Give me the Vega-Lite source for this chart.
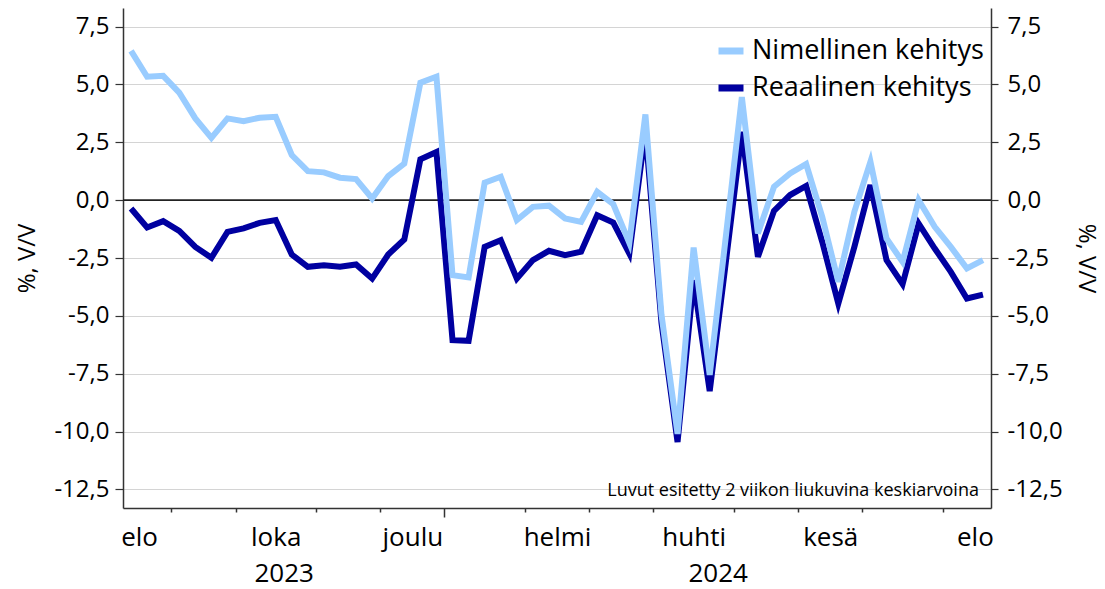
{
  "$schema": "https://vega.github.io/schema/vega-lite/v6.json",
  "width": 868,
  "height": 500,
  "autosize": "none",
  "padding": {"left": 123, "top": 8, "right": 114, "bottom": 81},
  "background": "white",
  "config": {
    "view": {"stroke": null},
    "font": "Open Sans",
    "axis": {"labelFont": "Open Sans", "titleFont": "Open Sans", "labelColor": "#000", "titleColor": "#000"}
  },
  "data": {
    "values": [
      {"week": "2023-08-14", "Nimellinen kehitys": 6.45, "Reaalinen kehitys": -0.36},
      {"week": "2023-08-21", "Nimellinen kehitys": 5.33, "Reaalinen kehitys": -1.18},
      {"week": "2023-08-28", "Nimellinen kehitys": 5.37, "Reaalinen kehitys": -0.91},
      {"week": "2023-09-04", "Nimellinen kehitys": 4.64, "Reaalinen kehitys": -1.33},
      {"week": "2023-09-11", "Nimellinen kehitys": 3.53, "Reaalinen kehitys": -2.02},
      {"week": "2023-09-18", "Nimellinen kehitys": 2.69, "Reaalinen kehitys": -2.49},
      {"week": "2023-09-25", "Nimellinen kehitys": 3.53, "Reaalinen kehitys": -1.37},
      {"week": "2023-10-02", "Nimellinen kehitys": 3.41, "Reaalinen kehitys": -1.22},
      {"week": "2023-10-09", "Nimellinen kehitys": 3.56, "Reaalinen kehitys": -0.98},
      {"week": "2023-10-16", "Nimellinen kehitys": 3.60, "Reaalinen kehitys": -0.86},
      {"week": "2023-10-23", "Nimellinen kehitys": 1.95, "Reaalinen kehitys": -2.35},
      {"week": "2023-10-30", "Nimellinen kehitys": 1.25, "Reaalinen kehitys": -2.88},
      {"week": "2023-11-06", "Nimellinen kehitys": 1.20, "Reaalinen kehitys": -2.81},
      {"week": "2023-11-13", "Nimellinen kehitys": 0.97, "Reaalinen kehitys": -2.88},
      {"week": "2023-11-20", "Nimellinen kehitys": 0.91, "Reaalinen kehitys": -2.78},
      {"week": "2023-11-27", "Nimellinen kehitys": 0.07, "Reaalinen kehitys": -3.39},
      {"week": "2023-12-04", "Nimellinen kehitys": 1.04, "Reaalinen kehitys": -2.35},
      {"week": "2023-12-11", "Nimellinen kehitys": 1.58, "Reaalinen kehitys": -1.70},
      {"week": "2023-12-18", "Nimellinen kehitys": 5.07, "Reaalinen kehitys": 1.76},
      {"week": "2023-12-25", "Nimellinen kehitys": 5.33, "Reaalinen kehitys": 2.08},
      {"week": "2024-01-01", "Nimellinen kehitys": -3.24, "Reaalinen kehitys": -6.05},
      {"week": "2024-01-08", "Nimellinen kehitys": -3.34, "Reaalinen kehitys": -6.08},
      {"week": "2024-01-15", "Nimellinen kehitys": 0.75, "Reaalinen kehitys": -2.02},
      {"week": "2024-01-22", "Nimellinen kehitys": 1.01, "Reaalinen kehitys": -1.73},
      {"week": "2024-01-29", "Nimellinen kehitys": -0.86, "Reaalinen kehitys": -3.39},
      {"week": "2024-02-05", "Nimellinen kehitys": -0.29, "Reaalinen kehitys": -2.59},
      {"week": "2024-02-12", "Nimellinen kehitys": -0.24, "Reaalinen kehitys": -2.19},
      {"week": "2024-02-19", "Nimellinen kehitys": -0.79, "Reaalinen kehitys": -2.38},
      {"week": "2024-02-26", "Nimellinen kehitys": -0.94, "Reaalinen kehitys": -2.23},
      {"week": "2024-03-04", "Nimellinen kehitys": 0.36, "Reaalinen kehitys": -0.65},
      {"week": "2024-03-11", "Nimellinen kehitys": -0.17, "Reaalinen kehitys": -0.97},
      {"week": "2024-03-18", "Nimellinen kehitys": -1.85, "Reaalinen kehitys": -2.31},
      {"week": "2024-03-25", "Nimellinen kehitys": 3.70, "Reaalinen kehitys": 3.0},
      {"week": "2024-04-01", "Nimellinen kehitys": -4.95, "Reaalinen kehitys": -5.3},
      {"week": "2024-04-08", "Nimellinen kehitys": -10.1, "Reaalinen kehitys": -10.45},
      {"week": "2024-04-15", "Nimellinen kehitys": -2.05, "Reaalinen kehitys": -3.46},
      {"week": "2024-04-22", "Nimellinen kehitys": -7.55, "Reaalinen kehitys": -8.25},
      {"week": "2024-04-29", "Nimellinen kehitys": -1.6, "Reaalinen kehitys": -2.7},
      {"week": "2024-05-06", "Nimellinen kehitys": 4.45, "Reaalinen kehitys": 2.95},
      {"week": "2024-05-13", "Nimellinen kehitys": -1.44, "Reaalinen kehitys": -2.45},
      {"week": "2024-05-20", "Nimellinen kehitys": 0.58, "Reaalinen kehitys": -0.46},
      {"week": "2024-05-27", "Nimellinen kehitys": 1.15, "Reaalinen kehitys": 0.22},
      {"week": "2024-06-03", "Nimellinen kehitys": 1.56, "Reaalinen kehitys": 0.61},
      {"week": "2024-06-10", "Nimellinen kehitys": -0.72, "Reaalinen kehitys": -1.80},
      {"week": "2024-06-17", "Nimellinen kehitys": -3.53, "Reaalinen kehitys": -4.47},
      {"week": "2024-06-24", "Nimellinen kehitys": -0.50, "Reaalinen kehitys": -2.02},
      {"week": "2024-07-01", "Nimellinen kehitys": 1.66, "Reaalinen kehitys": 0.65},
      {"week": "2024-07-08", "Nimellinen kehitys": -1.66, "Reaalinen kehitys": -2.59},
      {"week": "2024-07-15", "Nimellinen kehitys": -2.67, "Reaalinen kehitys": -3.63},
      {"week": "2024-07-22", "Nimellinen kehitys": 0.0, "Reaalinen kehitys": -1.01},
      {"week": "2024-07-29", "Nimellinen kehitys": -1.15, "Reaalinen kehitys": -2.09},
      {"week": "2024-08-05", "Nimellinen kehitys": -2.02, "Reaalinen kehitys": -3.10},
      {"week": "2024-08-12", "Nimellinen kehitys": -2.95, "Reaalinen kehitys": -4.25},
      {"week": "2024-08-19", "Nimellinen kehitys": -2.59, "Reaalinen kehitys": -4.08}
    ]
  },
  "layer": [
    {
      "data": {"values": [{}]},
      "mark": {"type": "rule", "color": "#222222", "strokeWidth": 1.6},
      "encoding": {
        "y": {"datum": 0, "type": "quantitative", "axis": null}
      }
    },
    {
      "transform": [
        {"fold": ["Nimellinen kehitys", "Reaalinen kehitys"], "as": ["series", "value"]},
        {"filter": "datum.series === 'Reaalinen kehitys'"}
      ],
      "mark": {"type": "line", "strokeWidth": 6, "strokeJoin": "miter"},
      "encoding": {
        "x": {
          "field": "week", "type": "temporal",
          "scale": {"type": "utc", "domain": [{"year": 2023, "month": 8, "date": 10, "hours": 12, "utc": true}, {"year": 2024, "month": 8, "date": 22, "hours": 12, "utc": true}]},
          "axis": {
            "orient": "bottom", "title": null, "labels": false, "grid": false,
            "values": [
              {"year": 2023, "month": 8, "date": 31, "hours": 12, "utc": true},
              {"year": 2023, "month": 9, "date": 28, "hours": 12, "utc": true},
              {"year": 2023, "month": 11, "date": 2, "hours": 12, "utc": true},
              {"year": 2023, "month": 11, "date": 30, "hours": 12, "utc": true},
              {"year": 2023, "month": 12, "date": 28, "hours": 12, "utc": true},
              {"year": 2024, "month": 2, "date": 1, "hours": 12, "utc": true},
              {"year": 2024, "month": 2, "date": 29, "hours": 12, "utc": true},
              {"year": 2024, "month": 3, "date": 28, "hours": 12, "utc": true},
              {"year": 2024, "month": 5, "date": 2, "hours": 12, "utc": true},
              {"year": 2024, "month": 5, "date": 30, "hours": 12, "utc": true},
              {"year": 2024, "month": 6, "date": 27, "hours": 12, "utc": true},
              {"year": 2024, "month": 8, "date": 1, "hours": 12, "utc": true}
            ],
            "domainColor": "#333333", "domainWidth": 1.5,
            "tickColor": "#333333", "tickWidth": 1.5,
            "tickSize": {"condition": {"test": "utcmonth(datum.value) == 11", "value": 9}, "value": 4}
          }
        },
        "y": {
          "field": "value", "type": "quantitative",
          "scale": {"domain": [-13.3, 8.3], "nice": false, "zero": false},
          "axis": {
            "orient": "left", "title": "%, V/V", "titleFontSize": 24, "titleFontWeight": "normal", "titlePadding": 14,
            "values": [-12.5, -10, -7.5, -5, -2.5, 0, 2.5, 5, 7.5],
            "labelExpr": "(datum.value < 0 ? '-' : '') + replace(format(abs(datum.value), '.1f'), '.', ',')",
            "labelFontSize": 24, "labelPadding": 6,
            "grid": true, "gridColor": "#d4d4d4", "gridWidth": 1,
            "domainColor": "#333333", "domainWidth": 1.5,
            "tickColor": "#333333", "tickSize": 8, "tickWidth": 1.2
          }
        },
        "color": {
          "field": "series", "type": "nominal",
          "scale": {"domain": ["Nimellinen kehitys", "Reaalinen kehitys"], "range": ["#99ccff", "#0000a0"]},
          "legend": {
            "orient": "none", "legendX": 592, "legendY": 27, "title": null, "padding": 0,
            "symbolType": "stroke", "symbolStrokeWidth": 7, "symbolSize": 625,
            "labelFontSize": 27, "labelFont": "Open Sans", "labelColor": "#000", "labelLimit": 400,
            "labelOffset": 5, "rowPadding": 7
          }
        }
      }
    },
    {
      "transform": [
        {"fold": ["Nimellinen kehitys", "Reaalinen kehitys"], "as": ["series", "value"]},
        {"filter": "datum.series === 'Nimellinen kehitys'"}
      ],
      "mark": {"type": "line", "strokeWidth": 6, "strokeJoin": "miter"},
      "encoding": {
        "x": {
          "field": "week", "type": "temporal",
          "axis": {
            "orient": "bottom", "title": null, "grid": false, "domain": false, "ticks": false, "tickSize": 0,
            "values": [
              {"year": 2023, "month": 8, "date": 17, "hours": 12, "utc": true},
              {"year": 2023, "month": 10, "date": 16, "utc": true},
              {"year": 2023, "month": 12, "date": 14, "hours": 12, "utc": true},
              {"year": 2024, "month": 2, "date": 15, "hours": 12, "utc": true},
              {"year": 2024, "month": 4, "date": 15, "utc": true},
              {"year": 2024, "month": 6, "date": 13, "hours": 12, "utc": true},
              {"year": 2024, "month": 8, "date": 15, "hours": 12, "utc": true}
            ],
            "labelExpr": "['tammi','helmi','maalis','huhti','touko','kesä','heinä','elo','syys','loka','marras','joulu'][utcmonth(datum.value)]",
            "labelBaseline": "alphabetic", "labelPadding": 37, "labelFontSize": 26,
            "labelFlush": false, "labelOverlap": false, "labelBound": false
          }
        },
        "y": {
          "field": "value", "type": "quantitative",
          "axis": {
            "orient": "right", "title": "%, V/V", "titleFontSize": 24, "titleFontWeight": "normal", "titlePadding": 11,
            "values": [-12.5, -10, -7.5, -5, -2.5, 0, 2.5, 5, 7.5],
            "labelExpr": "(datum.value < 0 ? '-' : '') + replace(format(abs(datum.value), '.1f'), '.', ',')",
            "labelFontSize": 24, "labelPadding": 9,
            "grid": false,
            "domainColor": "#333333", "domainWidth": 1.5,
            "tickColor": "#333333", "tickSize": 7, "tickWidth": 1.2
          }
        },
        "color": {
          "field": "series", "type": "nominal",
          "legend": {
            "orient": "none", "legendX": 592, "legendY": 27, "title": null, "padding": 0,
            "symbolType": "stroke", "symbolStrokeWidth": 7, "symbolSize": 625,
            "labelFontSize": 27, "labelFont": "Open Sans", "labelColor": "#000", "labelLimit": 400,
            "labelOffset": 5, "rowPadding": 7
          }
        }
      }
    },
    {
      "data": {"values": [{"note": "Luvut esitetty 2 viikon liukuvina keskiarvoina"}]},
      "mark": {"type": "text", "align": "right", "baseline": "alphabetic", "dx": -4, "dy": 7, "fontSize": 18, "font": "Open Sans", "color": "#000"},
      "encoding": {
        "text": {"field": "note"},
        "x": {
          "datum": {"year": 2024, "month": 8, "date": 19, "utc": true}, "type": "temporal",
          "axis": {
            "orient": "bottom", "title": null, "grid": false, "domain": false, "ticks": false, "tickSize": 0,
            "values": [
              {"year": 2023, "month": 10, "date": 19, "hours": 12, "utc": true},
              {"year": 2024, "month": 4, "date": 25, "hours": 12, "utc": true}
            ],
            "labelExpr": "'' + utcyear(datum.value)",
            "labelBaseline": "alphabetic", "labelPadding": 73, "labelFontSize": 26,
            "labelFlush": false, "labelOverlap": false, "labelBound": false
          }
        },
        "y": {"datum": -12.5, "type": "quantitative", "axis": null}
      }
    }
  ],
  "resolve": {"axis": {"x": "independent", "y": "independent"}}
}
